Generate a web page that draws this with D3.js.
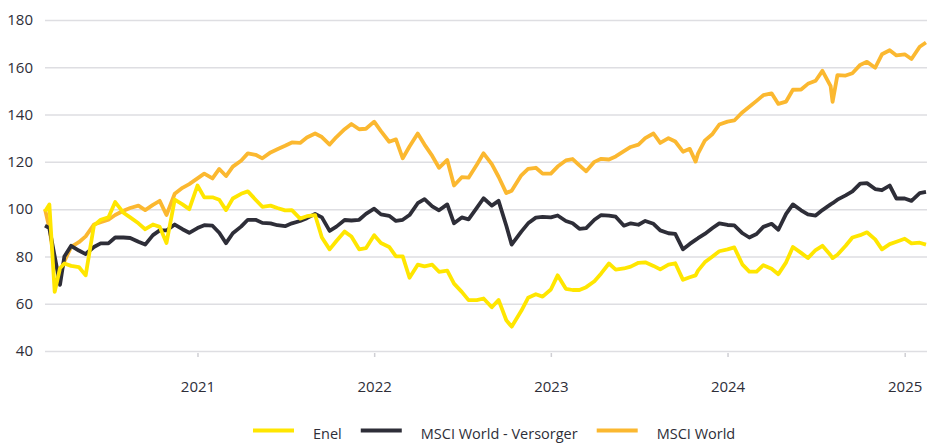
<!DOCTYPE html>
<html lang="de">
  <head>
    <meta charset="UTF-8" />
    <title>Enel vs. MSCI World</title>
    <script src="https://cdn.jsdelivr.net/npm/d3@7"></script>
    <style>
      body {
        margin: 0;
        background: #fff;
      }
      text {
        font-family: "Open Sans", "Noto Sans", sans-serif;
        fill: #2e2e38;
      }
    </style>
  </head>
  <body>
    <svg width="927" height="444"></svg>
    <script>
      // semi-monthly observations (a few extra dates at sharp turns)
      var dates = [
        "2020-02-21", "2020-03-01", "2020-03-12", "2020-03-23", "2020-04-01", "2020-04-15",
        "2020-05-01", "2020-05-15", "2020-06-01", "2020-06-15", "2020-07-01", "2020-07-15",
        "2020-08-01", "2020-08-15", "2020-09-01", "2020-09-15", "2020-10-01", "2020-10-15",
        "2020-10-29", "2020-11-15", "2020-12-01", "2020-12-15",
        "2021-01-01", "2021-01-15", "2021-02-01", "2021-02-15", "2021-03-01", "2021-03-15",
        "2021-04-01", "2021-04-15", "2021-05-01", "2021-05-15", "2021-06-01", "2021-06-15",
        "2021-07-01", "2021-07-15", "2021-08-01", "2021-08-15", "2021-09-01", "2021-09-15",
        "2021-10-01", "2021-10-15", "2021-11-01", "2021-11-15", "2021-12-01", "2021-12-15",
        "2022-01-01", "2022-01-15", "2022-02-01", "2022-02-15", "2022-03-01", "2022-03-15",
        "2022-04-01", "2022-04-15", "2022-05-01", "2022-05-15", "2022-06-01", "2022-06-15",
        "2022-07-01", "2022-07-15", "2022-08-01", "2022-08-15", "2022-09-01", "2022-09-15",
        "2022-10-01", "2022-10-12", "2022-11-01", "2022-11-15", "2022-12-01", "2022-12-15",
        "2023-01-01", "2023-01-15", "2023-02-01", "2023-02-15", "2023-03-01", "2023-03-15",
        "2023-04-01", "2023-04-15", "2023-05-01", "2023-05-15", "2023-06-01", "2023-06-15",
        "2023-07-01", "2023-07-15", "2023-08-01", "2023-08-15", "2023-09-01", "2023-09-15",
        "2023-10-01", "2023-10-15", "2023-10-27", "2023-11-01", "2023-11-15", "2023-12-01",
        "2023-12-15",
        "2024-01-01", "2024-01-15", "2024-02-01", "2024-02-15", "2024-03-01", "2024-03-15",
        "2024-04-01", "2024-04-15", "2024-05-01", "2024-05-15", "2024-06-01", "2024-06-15",
        "2024-07-01", "2024-07-15", "2024-08-01", "2024-08-05", "2024-08-15", "2024-09-01",
        "2024-09-15", "2024-10-01", "2024-10-15", "2024-11-01", "2024-11-15", "2024-12-01",
        "2024-12-15",
        "2025-01-01", "2025-01-15", "2025-02-01", "2025-02-14"
      ];

      var enel = [
        99, 102, 65, 75, 77, 76, 75.5, 72, 93, 95.5, 96.5, 103, 98.5, 96.5, 94, 91.5, 93.5, 92.5, 85.7, 104, 102, 100,
        110, 105, 105, 104, 99.6, 104.5, 106.5, 107.5, 104, 101, 101.5, 100.5, 99.5, 99.6, 96, 97, 97.5, 88, 83, 86.5, 90.5, 88.4, 83, 83.5,
        89, 85.7, 84, 80, 80, 71, 76.5, 75.8, 76.5, 73.5, 74, 68.5, 65, 61.5, 61.5, 62.2, 58.5, 61.6, 53, 50.3, 57, 62.5, 64, 63,
        66, 72, 66.3, 65.8, 65.8, 67, 69.5, 72.8, 77, 74.4, 74.9, 75.7, 77.3, 77.5, 76, 74.5, 76.5, 77.1, 70.1, 71.2, 72, 74, 77.5, 80, 82.2,
        83, 83.8, 76.5, 73.6, 73.6, 76.3, 74.8, 72.5, 77.5, 84, 81.5, 79.3, 82.7, 84.5, 80.5, 79.3, 80.7, 84.5, 88, 89, 90.2, 87.2, 83, 85.2, 86.2,
        87.5, 85.5, 85.8, 85
      ];

      var versorger = [
        93, 92, 80, 68, 80, 84.5, 82.5, 81, 84, 85.5, 85.5, 88, 88, 87.8, 86.2, 85, 89, 91, 91, 93.5, 91.5, 90,
        92, 93.2, 93, 90, 85.6, 89.8, 92.6, 95.5, 95.5, 94.2, 94, 93.2, 92.8, 94, 95, 96.2, 98, 96.5, 90.8, 92.6, 95.4, 95.2, 95.5, 98,
        100.2, 97.8, 97.2, 95, 95.5, 97.5, 102.5, 104.2, 101.2, 99.5, 102, 94, 96.5, 95.7, 100.5, 104.6, 101.5, 103.5, 93, 85, 90.5, 94, 96.4, 96.7,
        96.5, 97.3, 95, 94, 91.7, 92, 95.5, 97.5, 97.3, 96.8, 93, 94, 93.4, 95, 93.8, 91, 89.8, 89.5, 83, 85.3, 87, 87.7, 89.5, 92, 94,
        93.3, 93.1, 89.8, 88, 89.5, 92.5, 93.8, 91.3, 98, 102, 99.5, 97.8, 97.3, 99.6, 102, 102.5, 104, 105.8, 107.5, 110.8, 111, 108.5, 108, 110, 104.5,
        104.5, 103.5, 106.8, 107.3
      ];

      var world = [
        100, 92, 77, 72, 78, 84, 86, 88.5, 93.5, 94.5, 95.5, 97.5, 99.3, 100.5, 101.5, 99.6, 101.8, 103.5, 97.5, 106.5, 109, 110.6,
        113, 115, 113, 117, 114, 118, 120.5, 123.6, 123, 121.5, 124, 125.3, 126.8, 128.2, 128, 130.3, 132, 130.5, 127.3, 130.5, 133.8, 136, 133.8, 134,
        137, 133, 128.5, 129.5, 121.5, 126.5, 132, 127.3, 122.5, 117.5, 120.8, 110, 113.5, 113.3, 118.8, 123.6, 119, 113.7, 106.8, 107.8, 114.3, 117, 117.5, 115,
        115, 118, 120.6, 121.2, 118.5, 116, 120, 121.3, 121, 122.3, 124.5, 126.3, 127.3, 130, 132, 128, 130, 128.6, 124.3, 125.5, 120.1, 123.5, 129, 131.8, 135.8,
        137, 137.5, 141, 143.3, 145.8, 148.2, 149, 144.5, 145.5, 150.5, 150.6, 153, 154.3, 158.5, 152, 145.4, 156.7, 156.5, 157.5, 161, 162.3, 159.8, 165.5, 167.2, 165,
        165.5, 163.5, 168.7, 170.5
      ];

      var yTicks = [40, 60, 80, 100, 120, 140, 160, 180];
      var seriesNames = ["Enel", "MSCI World - Versorger", "MSCI World"];
      var seriesColors = ["#ffe600", "#2e2e38", "#fbb830"];

      var svg = d3.select("svg");
      var parseDate = d3.timeParse("%Y-%m-%d");
      var time = dates.map(parseDate);

      var xScale = d3.scaleTime().domain(d3.extent(time)).range([45, 926]);
      var yScale = d3.scaleLinear().domain([40, 180]).range([351, 20]);

      // grid lines + y labels
      var yAxis = svg
        .append("g")
        .attr("transform", "translate(45,0)")
        .call(
          d3
            .axisLeft(yScale)
            .tickValues(yTicks)
            .tickSize(-882)
            .tickPadding(12)
        );
      yAxis.select(".domain").remove();
      yAxis.selectAll("line").attr("stroke", "#dedee2").attr("stroke-width", 1.5);
      yAxis
        .selectAll("text")
        .attr("font-size", "15px")
        .attr("fill", "#2e2e38")
        .attr("x", -12);

      // x axis: ticks at each year start
      var xAxis = svg
        .append("g")
        .attr("transform", "translate(0,351)")
        .call(
          d3
            .axisBottom(xScale)
            .ticks(d3.timeYear.every(1))
            .tickFormat(d3.timeFormat("%Y"))
            .tickSize(6)
            .tickPadding(24)
        );
      xAxis.select(".domain").remove();
      xAxis.selectAll("line").attr("stroke", "#cfcfd4").attr("stroke-width", 1.5).attr("y1", 2);
      xAxis.selectAll("text").attr("font-size", "15px").attr("fill", "#2e2e38");

      var line = d3
        .line()
        .x(function (d, i) {
          return xScale(time[i]);
        })
        .y(function (d) {
          return yScale(d);
        });

      var seriesData = [enel, versorger, world];
      // draw MSCI World first, Enel on top
      [2, 1, 0].forEach(function (k) {
        svg
          .append("path")
          .datum(seriesData[k])
          .attr("fill", "none")
          .attr("stroke", seriesColors[k])
          .attr("stroke-width", 3.8)
          .attr("stroke-linejoin", "round")
          .attr("d", line);
      });

      // legend
      var legend = svg.append("g");
      var lx = 253;
      seriesNames.forEach(function (name, k) {
        legend
          .append("line")
          .attr("x1", lx)
          .attr("x2", lx + 41)
          .attr("y1", 430.5)
          .attr("y2", 430.5)
          .attr("stroke", seriesColors[k])
          .attr("stroke-width", 4);
        var t = legend
          .append("text")
          .attr("x", lx + 60)
          .attr("y", 439)
          .attr("font-size", "14.5px")
          .text(name);
        lx = lx + 60 + t.node().getComputedTextLength() + 19;
      });
    </script>
  </body>
</html>
